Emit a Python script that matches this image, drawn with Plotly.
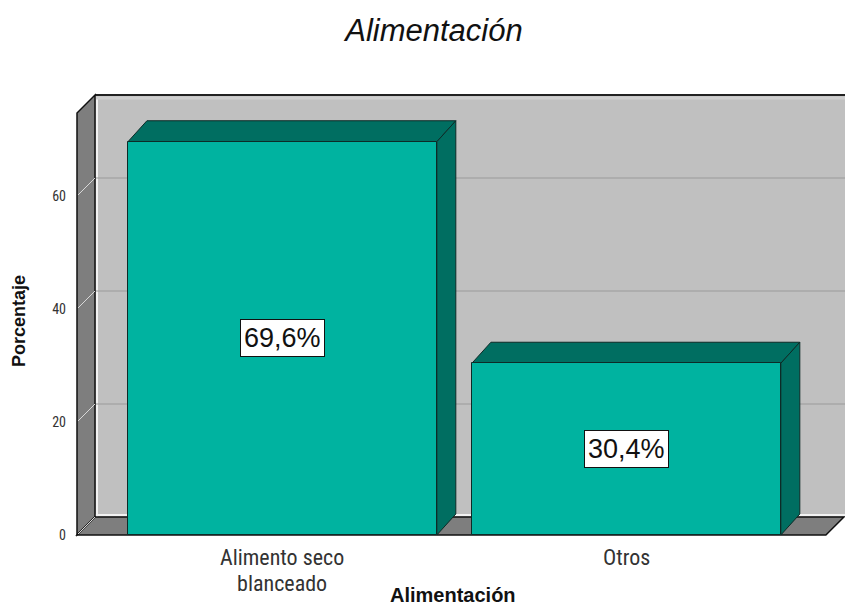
import plotly.graph_objects as go

# ---- data -------------------------------------------------------------
categories = ["Alimento seco blanceado", "Otros"]
category_lines = [["Alimento seco", "blanceado"], ["Otros"]]
percentages = [69.6, 30.4]
y_ticks = [0, 20, 40, 60]
chart_title = "Alimentación"
x_title = "Alimentación"
y_title = "Porcentaje"

# ---- geometry / style -------------------------------------------------
W, H = 845, 608
ML, MR, MT, MB = 70, 0, 90, 70
PX_X = 344.0          # pixels per category step
PX_Y = 5.65           # pixels per percentage point
BOX_X = (-0.597, 1.58)  # front edges of the 3-D frame along x
BOX_TOP = 74.7          # top of the frame (percentage units)
BAR_W = 0.898
WALL_DEPTH_PX = (18, 18)   # right, up
BAR_DEPTH_PX = (19, 21)

FRONT_LEFT_PX = 77      # pixel x of the frame's front-left edge
ZERO_PX = 535           # pixel y of the zero line (front)

plot_w = W - ML - MR
plot_h = H - MT - MB
xr0 = BOX_X[0] - (FRONT_LEFT_PX - ML) / PX_X
xr = [xr0, xr0 + plot_w / PX_X]
yr0 = -((H - MB) - ZERO_PX) / PX_Y
yr = [yr0, yr0 + plot_h / PX_Y]

wdx, wdy = WALL_DEPTH_PX[0] / PX_X, WALL_DEPTH_PX[1] / PX_Y
bdx, bdy = BAR_DEPTH_PX[0] / PX_X, BAR_DEPTH_PX[1] / PX_Y

FACE = "#00b3a0"
DARK = "#006e61"
WALL_BACK = "#c0c0c0"
WALL_SIDE = "#7e7e7e"
NARROW = "Liberation Sans Narrow, Roboto Condensed, DejaVu Sans Condensed, Roboto, sans-serif"
ARIAL = "Liberation Sans, Arial, sans-serif"


def path(pts):
    return "M " + " L ".join(f"{x},{y}" for x, y in pts) + " Z"


def xpaper(px):
    return (px - ML) / plot_w


def ypaper(py):
    return ((H - MB) - py) / plot_h


shapes = []
X0, X1 = BOX_X
right_edge = xr[1] + 0.05

# back wall
shapes.append(dict(type="path", xref="x", yref="y", layer="below",
                   path=path([(X0 + wdx, wdy), (right_edge, wdy),
                              (right_edge, BOX_TOP + wdy), (X0 + wdx, BOX_TOP + wdy)]),
                   fillcolor=WALL_BACK, line=dict(width=0)))
# highlight along the inner edges of the back wall
shapes.append(dict(type="line", xref="x", yref="y", layer="below",
                   x0=X0 + wdx + 2 / PX_X, y0=wdy, x1=X0 + wdx + 2 / PX_X, y1=BOX_TOP + wdy - 2 / PX_Y,
                   line=dict(color="#f2f2f2", width=2)))
shapes.append(dict(type="line", xref="x", yref="y", layer="below",
                   x0=X0 + wdx, y0=wdy + 2 / PX_Y, x1=right_edge, y1=wdy + 2 / PX_Y,
                   line=dict(color="#f2f2f2", width=2)))
shapes.append(dict(type="line", xref="x", yref="y", layer="below",
                   x0=X0 + wdx, y0=BOX_TOP + wdy - 3 / PX_Y, x1=right_edge, y1=BOX_TOP + wdy - 3 / PX_Y,
                   line=dict(color="#cfcfcf", width=3)))
# gridlines on the back wall
for v in y_ticks[1:]:
    shapes.append(dict(type="line", xref="x", yref="y", layer="below",
                       x0=X0 + wdx, y0=v + wdy, x1=right_edge, y1=v + wdy,
                       line=dict(color="#9a9a9a", width=1)))
# top edge of the back wall
shapes.append(dict(type="line", xref="x", yref="y", layer="below",
                   x0=X0 + wdx, y0=BOX_TOP + wdy, x1=right_edge, y1=BOX_TOP + wdy,
                   line=dict(color="#222222", width=2)))
# left wall
shapes.append(dict(type="path", xref="x", yref="y", layer="below",
                   path=path([(X0, 0), (X0, BOX_TOP), (X0 + wdx, BOX_TOP + wdy), (X0 + wdx, wdy)]),
                   fillcolor=WALL_SIDE, line=dict(color="#111111", width=1.5)))
# floor
shapes.append(dict(type="path", xref="x", yref="y", layer="below",
                   path=path([(X0, 0), (X1, 0), (X1 + wdx, wdy), (X0 + wdx, wdy)]),
                   fillcolor=WALL_SIDE, line=dict(color="#111111", width=1.5)))
# tick guides across the left wall
for v in y_ticks:
    shapes.append(dict(type="line", xref="x", yref="y", layer="below",
                       x0=X0 + 1 / PX_X, y0=v + 1 / PX_Y, x1=X0 + wdx, y1=v + wdy,
                       line=dict(color="#d8d8d8", width=1)))

# bar tops and sides
for i, v in enumerate(percentages):
    xl, xh = i - BAR_W / 2, i + BAR_W / 2
    shapes.append(dict(type="path", xref="x", yref="y", layer="below",
                       path=path([(xl, v), (xh, v), (xh + bdx, v + bdy), (xl + bdx, v + bdy)]),
                       fillcolor=DARK, line=dict(color="#0d2b27", width=1)))
    shapes.append(dict(type="path", xref="x", yref="y", layer="below",
                       path=path([(xh, 0), (xh, v), (xh + bdx, v + bdy), (xh + bdx, bdy)]),
                       fillcolor=DARK, line=dict(color="#0d2b27", width=1)))

fig = go.Figure()
fig.add_trace(go.Bar(
    x=list(range(len(categories))), y=percentages, width=BAR_W,
    marker=dict(color=FACE, line=dict(color="#0d2b27", width=1)),
    hovertext=categories, hoverinfo="text+y", showlegend=False,
))

annotations = []
# value labels
for i, v in enumerate(percentages):
    annotations.append(dict(
        x=i, y=v / 2, xref="x", yref="y", showarrow=False,
        text=f"{v:.1f}%".replace(".", ","),
        font=dict(family=ARIAL, size=27, color="#111111"),
        bgcolor="white", bordercolor="#111111", borderwidth=1, borderpad=3,
    ))
# category labels (the base size sets the line step, the span sets the glyph size)
for i, lines in enumerate(category_lines):
    text = "<br>".join(f'<span style="font-size:22px">{ln}</span>' for ln in lines)
    annotations.append(dict(
        x=i, y=ypaper(543), xref="x", yref="paper", showarrow=False,
        text=text, xanchor="center", yanchor="top",
        font=dict(family=NARROW, size=20, color="#333333"),
    ))
# axis titles
annotations.append(dict(
    x=xpaper(453), y=ypaper(595), xref="paper", yref="paper", showarrow=False,
    text=f"<b>{x_title}</b>", xanchor="center", yanchor="middle",
    font=dict(family=ARIAL, size=20, color="#111111"),
))
annotations.append(dict(
    x=xpaper(19), y=ypaper(321), xref="paper", yref="paper", showarrow=False,
    text=f"<b>{y_title}</b>", textangle=-90, xanchor="center", yanchor="middle",
    font=dict(family=ARIAL, size=18, color="#111111"),
))

fig.update_layout(
    width=W, height=H,
    margin=dict(l=ML, r=MR, t=MT, b=MB, pad=0),
    paper_bgcolor="white", plot_bgcolor="white",
    title=dict(text=chart_title, x=434 / W, xanchor="center",
               y=1 - 30 / H, yanchor="middle",
               font=dict(family=ARIAL, size=31, color="#111111", style="italic")),
    xaxis=dict(range=xr, showticklabels=False, showgrid=False, zeroline=False,
               showline=False, ticks="", fixedrange=True),
    yaxis=dict(range=yr, tickvals=y_ticks, ticktext=[str(t) for t in y_ticks],
               showgrid=False, zeroline=False, showline=False, ticks="",
               ticklabelstandoff=3,
               tickfont=dict(family=NARROW, size=14, color="#333333"), fixedrange=True),
    shapes=shapes, annotations=annotations, bargap=0,
)

fig.write_html("out.html")
